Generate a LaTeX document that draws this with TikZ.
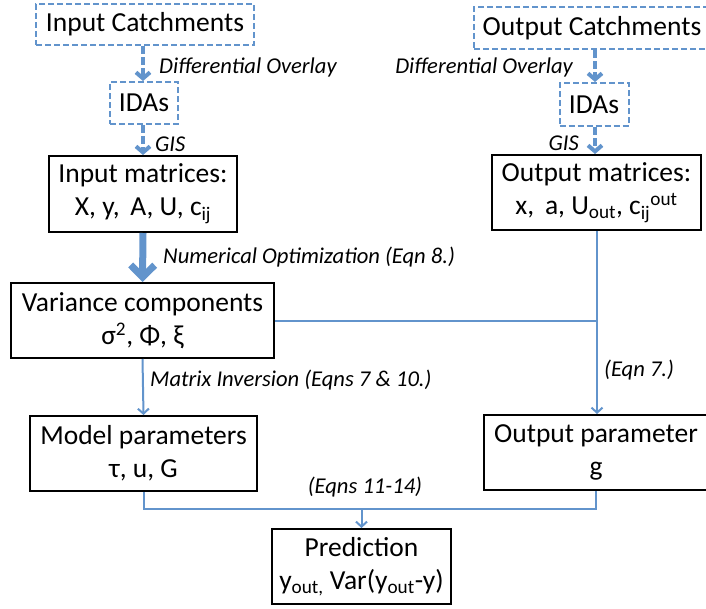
\documentclass[tikz,border=0pt]{standalone}
\usepackage{fontspec}
\setmainfont{Carlito}
\usetikzlibrary{arrows.meta}
\definecolor{lblue}{RGB}{98,148,204}
\begin{document}
\begin{tikzpicture}[x=1pt,y=-1pt,
  bigtxt/.style={font=\fontsize{27.5}{33}\selectfont},
  dbox/.style={draw=lblue, line width=2pt, dash pattern=on 6pt off 3pt, inner sep=0pt, bigtxt},
  bbox/.style={draw=black, line width=2pt, inner sep=0pt, align=center, bigtxt},
  lbl/.style={font=\fontsize{22.6}{26}\selectfont\itshape, inner sep=0pt},
  darrow/.style={draw=lblue, line width=4pt, dash pattern=on 8pt off 3pt, -{Straight Barb[length=6pt,width=14pt]}},
  fatarrow/.style={draw=lblue, line width=7pt, -{Straight Barb[length=12pt,width=24pt]}},
  thinarrow/.style={draw=lblue, line width=2pt, -{Straight Barb[length=5pt,width=11pt]}},
  conn/.style={draw=lblue, line width=2pt}
]
\useasboundingbox (0,0) rectangle (706,608);

% dashed boxes
\node[dbox, minimum width=218pt, minimum height=41pt] (incatch) at (145,24.5) {Input Catchments};
\node[dbox, minimum width=68pt, minimum height=42pt] (inida) at (144,103) {IDAs};
\node[dbox, minimum width=236pt, minimum height=42pt] (outcatch) at (592,28) {Output Catchments};
\node[dbox, minimum width=69pt, minimum height=43pt] (outida) at (594,104.5) {IDAs};

% solid boxes
\node[bbox, minimum width=188pt, minimum height=76pt] (inmat) at (143,194)
  {Input matrices:\\ X, y,\, A, U, c\textsubscript{ij}};
\node[bbox, minimum width=209pt, minimum height=75pt] (outmat) at (596.5,192.5)
  {Output matrices:\\ x,\, a, U\textsubscript{out}, c\textsubscript{ij}\textsuperscript{out}};
\node[bbox, minimum width=263pt, minimum height=75pt] (var) at (142.5,320.5)
  {Variance components\\ σ\textsuperscript{2}, Φ, ξ};
\node[bbox, minimum width=227pt, minimum height=75pt] (model) at (143.5,453.5)
  {Model parameters\\ τ, u, G};
\node[bbox, minimum width=224pt, minimum height=75pt] (outpar) at (596,452.5)
  {Output parameter\\ g};
\node[bbox, minimum width=179pt, minimum height=75pt] (pred) at (361.5,566.5)
  {Prediction\\ y\textsubscript{out,} Var(y\textsubscript{out}-y)};

% arrows top left
\draw[darrow] (incatch.south -| 143,0) -- (inida.north -| 143,0);
\draw[darrow] (inida.south -| 143,0) -- (inmat.north -| 143,0);
% arrows top right
\draw[darrow] (outcatch.south -| 595,0) -- (outida.north -| 595,0);
\draw[darrow] (outida.south -| 595,0) -- (outmat.north -| 595,0);

\node[lbl, anchor=west] (ldo1) at (159,67) {Differential Overlay};
\node[lbl, anchor=east] (ldo2) at (573,67) {Differential Overlay};
\node[lbl, anchor=west] (lgis1) at (155,144) {GIS};
\node[lbl, anchor=east] (lgis2) at (579,143) {GIS};

% main flow
\draw[fatarrow] (inmat.south) -- (var.north);
\node[lbl, anchor=west] (lnum) at (163,257) {Numerical Optimization (Eqn 8.)};

\draw[thinarrow] (var.south) -- (model.north);
\node[lbl, anchor=west] (lmat) at (150,380) {Matrix Inversion (Eqns 7 \& 10.)};

\coordinate (j1) at (597,321);
\draw[thinarrow] (outmat.south -| j1) -- (outpar.north -| j1);
\draw[conn] (var.east |- j1) -- (j1);
\node[lbl, anchor=west] (leq7) at (604,370) {(Eqn 7.)};

\coordinate (b1) at (143.5,509);
\coordinate (b2) at (596,509);
\draw[conn] (model.south) -- (b1) -- (b2) -- (outpar.south);
\draw[thinarrow] (pred.north |- b1) -- (pred.north);
\node[lbl] (leq11) at (365,487) {(Eqns 11-14)};
\end{tikzpicture}
\end{document}
